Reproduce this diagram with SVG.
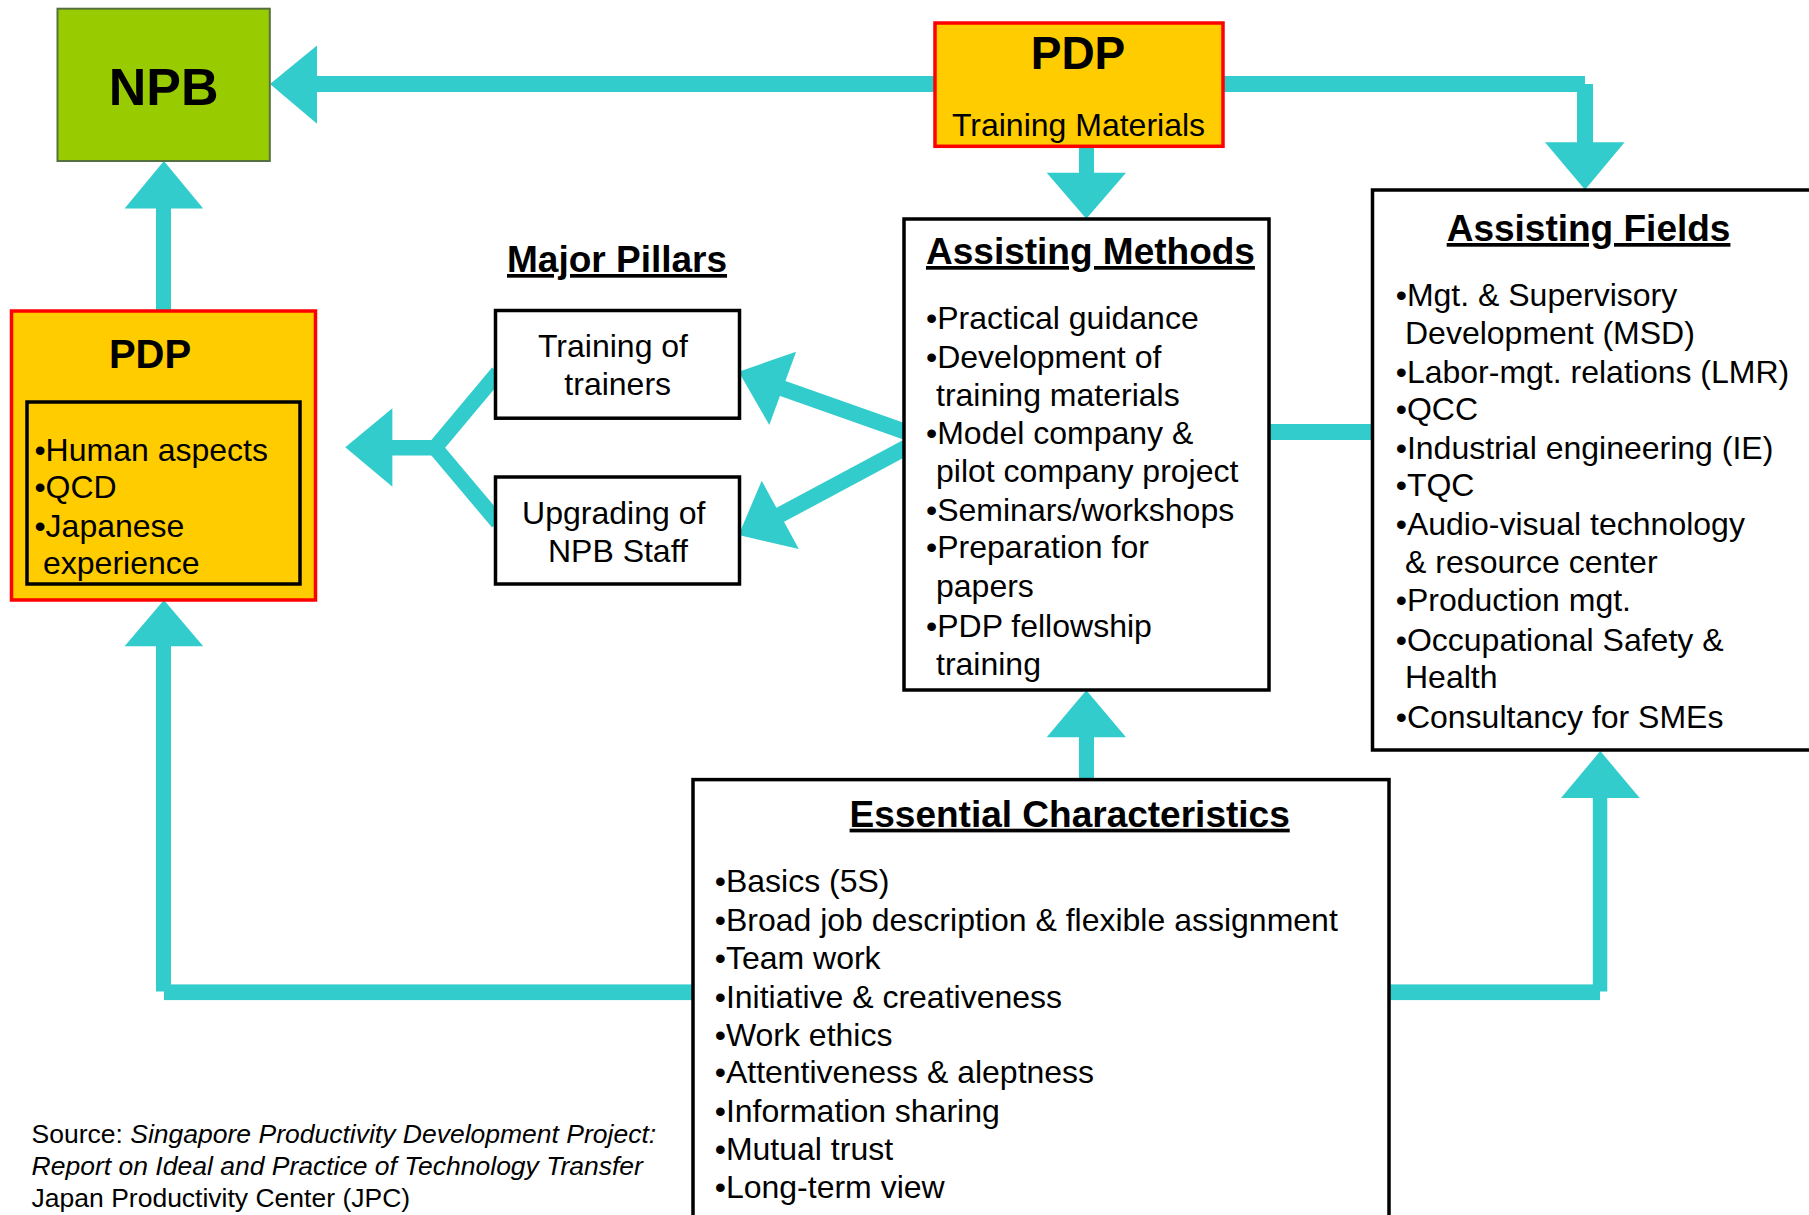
<svg xmlns="http://www.w3.org/2000/svg" width="1809" height="1215" viewBox="0 0 1809 1215">
<style>
text{font-family:"Liberation Sans",Arial,Helvetica,sans-serif;fill:#000}
.t{font-size:32px}
.h{font-size:37px;font-weight:bold;text-decoration:underline}
.b{font-weight:bold}
.c{text-anchor:middle}
.box{fill:#fff;stroke:#000;stroke-width:3.5}
.pdp{fill:#FFCC00;stroke:#FF0000;stroke-width:3.5}
.ln{fill:none;stroke:#33CCCC;stroke-width:15.5;stroke-linecap:butt}
.bar{fill:#33CCCC}
.src{font-size:26.5px}
</style>
<rect width="1809" height="1215" fill="#fff"/>
<g id="connectors">
  <!-- PDP top -> NPB -->
  <rect class="bar" x="316" y="76" width="620" height="16"/>
  <polygon class="bar" points="270,84 317,45.5 317,123.8"/>
  <!-- PDP top -> Assisting Fields -->
  <rect class="bar" x="1222" y="76" width="363" height="16"/>
  <rect class="bar" x="1577" y="84" width="16" height="59"/>
  <polygon class="bar" points="1545,142.3 1624.6,142.3 1585,189.8"/>
  <!-- PDP top -> Assisting Methods -->
  <rect class="bar" x="1079" y="145" width="15" height="29"/>
  <polygon class="bar" points="1046.7,172.8 1126,172.8 1086.3,218.7"/>
  <!-- PDP left -> NPB -->
  <rect class="bar" x="156" y="207" width="15" height="105"/>
  <polygon class="bar" points="124.6,208.4 203.2,208.4 163.9,161"/>
  <!-- Pillars -> PDP left -->
  <polygon class="bar" points="345.3,447.3 392.4,408.3 392.4,486.7"/>
  <rect class="bar" x="391" y="440" width="45" height="15.5"/>
  <path class="ln" d="M498,372.5 L435,447.7 L498,522.5"/>
  <!-- Assisting Methods -> pillars -->
  <line class="ln" x1="906" y1="432" x2="780" y2="387.5" style="stroke-width:16"/>
  <polygon class="bar" points="738.7,371.7 796.1,351.7 769.3,425"/>
  <line class="ln" x1="906" y1="447.5" x2="778" y2="516" style="stroke-width:16"/>
  <polygon class="bar" points="738.7,535 761.7,480.7 798.8,549"/>
  <!-- Methods - Fields -->
  <rect class="bar" x="1267" y="424" width="107" height="16"/>
  <!-- Essential -> Methods -->
  <rect class="bar" x="1079" y="736" width="15" height="45"/>
  <polygon class="bar" points="1046.7,737.3 1126,737.3 1086.3,690.2"/>
  <!-- Essential -> PDP left -->
  <rect class="bar" x="156" y="645.5" width="15" height="346"/>
  <rect class="bar" x="164" y="984.4" width="530" height="15.7"/>
  <polygon class="bar" points="124.6,646.3 203.2,646.3 163.9,600"/>
  <!-- Essential -> Fields -->
  <rect class="bar" x="1388" y="984.4" width="212" height="15.7"/>
  <rect class="bar" x="1592.8" y="797.5" width="14.5" height="194"/>
  <polygon class="bar" points="1561,798.1 1639.7,798.1 1600.3,751"/>
</g>
<g id="npb">
  <rect x="57.5" y="8.7" width="212.3" height="152.3" fill="#99CC00" stroke="#55703F" stroke-width="2"/>
  <text class="b c" x="163.6" y="104.8" font-size="52">NPB</text>
</g>
<g id="pdp-top">
  <rect class="pdp" x="935" y="23" width="288" height="123.3"/>
  <text class="b c" x="1078" y="69.2" font-size="46">PDP</text>
  <text class="t c" x="1078.5" y="136.4">Training Materials</text>
</g>
<g id="pdp-left">
  <rect class="pdp" x="11.5" y="311" width="304" height="289"/>
  <text class="b c" x="150" y="367.7" font-size="40">PDP</text>
  <rect x="27" y="402" width="273" height="182" fill="none" stroke="#000" stroke-width="3.5"/>
  <text class="t" x="34.4" y="460.6">•Human aspects</text>
  <text class="t" x="34.4" y="498">•QCD</text>
  <text class="t" x="34.4" y="536.6">•Japanese</text>
  <text class="t" x="43" y="574">experience</text>
</g>
<g id="major-pillars">
  <text class="h" x="507" y="272">Major Pillars</text>
</g>
<g id="training-of-trainers">
  <rect class="box" x="495.5" y="310.5" width="244" height="107.7"/>
  <text class="t c" x="613" y="357">Training of</text>
  <text class="t c" x="617.7" y="395.4">trainers</text>
</g>
<g id="upgrading-npb-staff">
  <rect class="box" x="495.5" y="477" width="244" height="107"/>
  <text class="t c" x="613.7" y="524">Upgrading of</text>
  <text class="t c" x="617.9" y="561.5">NPB Staff</text>
</g>
<g id="assisting-methods">
  <rect class="box" x="904" y="219" width="365" height="471"/>
  <text class="h" x="926" y="264">Assisting Methods</text>
  <text class="t" x="926" y="329.4">•Practical guidance</text>
  <text class="t" x="926" y="367.7">•Development of</text>
  <text class="t" x="936" y="406">training materials</text>
  <text class="t" x="926" y="444">•Model company &amp;</text>
  <text class="t" x="936" y="482">pilot company project</text>
  <text class="t" x="926" y="520.7">•Seminars/workshops</text>
  <text class="t" x="926" y="558.3">•Preparation for</text>
  <text class="t" x="936" y="597">papers</text>
  <text class="t" x="926" y="636.5">•PDP fellowship</text>
  <text class="t" x="936" y="674.5">training</text>
</g>
<g id="assisting-fields">
  <rect class="box" x="1372.5" y="190" width="450" height="560"/>
  <text class="h" x="1446.7" y="241">Assisting Fields</text>
  <text class="t" x="1395.7" y="306.4">•Mgt. &amp; Supervisory</text>
  <text class="t" x="1405" y="344">Development (MSD)</text>
  <text class="t" x="1395.7" y="382.8">•Labor-mgt. relations (LMR)</text>
  <text class="t" x="1395.7" y="420.3">•QCC</text>
  <text class="t" x="1395.7" y="458.7">•Industrial engineering (IE)</text>
  <text class="t" x="1395.7" y="496.2">•TQC</text>
  <text class="t" x="1395.7" y="534.6">•Audio-visual technology</text>
  <text class="t" x="1405" y="572.6">&amp; resource center</text>
  <text class="t" x="1395.7" y="611">•Production mgt.</text>
  <text class="t" x="1395.7" y="650.5">•Occupational Safety &amp;</text>
  <text class="t" x="1405" y="688.2">Health</text>
  <text class="t" x="1395.7" y="727.5">•Consultancy for SMEs</text>
</g>
<g id="essential-characteristics">
  <rect class="box" x="693" y="779.6" width="696" height="460"/>
  <text class="h" x="849.6" y="826.7">Essential Characteristics</text>
  <text class="t" x="714.7" y="892.2">•Basics (5S)</text>
  <text class="t" x="714.7" y="930.6">•Broad job description &amp; flexible assignment</text>
  <text class="t" x="714.7" y="968.7">•Team work</text>
  <text class="t" x="714.7" y="1007.9">•Initiative &amp; creativeness</text>
  <text class="t" x="714.7" y="1046">•Work ethics</text>
  <text class="t" x="714.7" y="1083.2">•Attentiveness &amp; aleptness</text>
  <text class="t" x="714.7" y="1121.6">•Information sharing</text>
  <text class="t" x="714.7" y="1159.7">•Mutual trust</text>
  <text class="t" x="714.7" y="1198.1">•Long-term view</text>
</g>
<g id="source">
  <text class="src" x="31.6" y="1143.2">Source: <tspan font-style="italic">Singapore Productivity Development Project:</tspan></text>
  <text class="src" x="31.6" y="1175.4" font-style="italic">Report on Ideal and Practice of Technology Transfer</text>
  <text class="src" x="31.6" y="1207.2">Japan Productivity Center (JPC)</text>
</g>
</svg>
